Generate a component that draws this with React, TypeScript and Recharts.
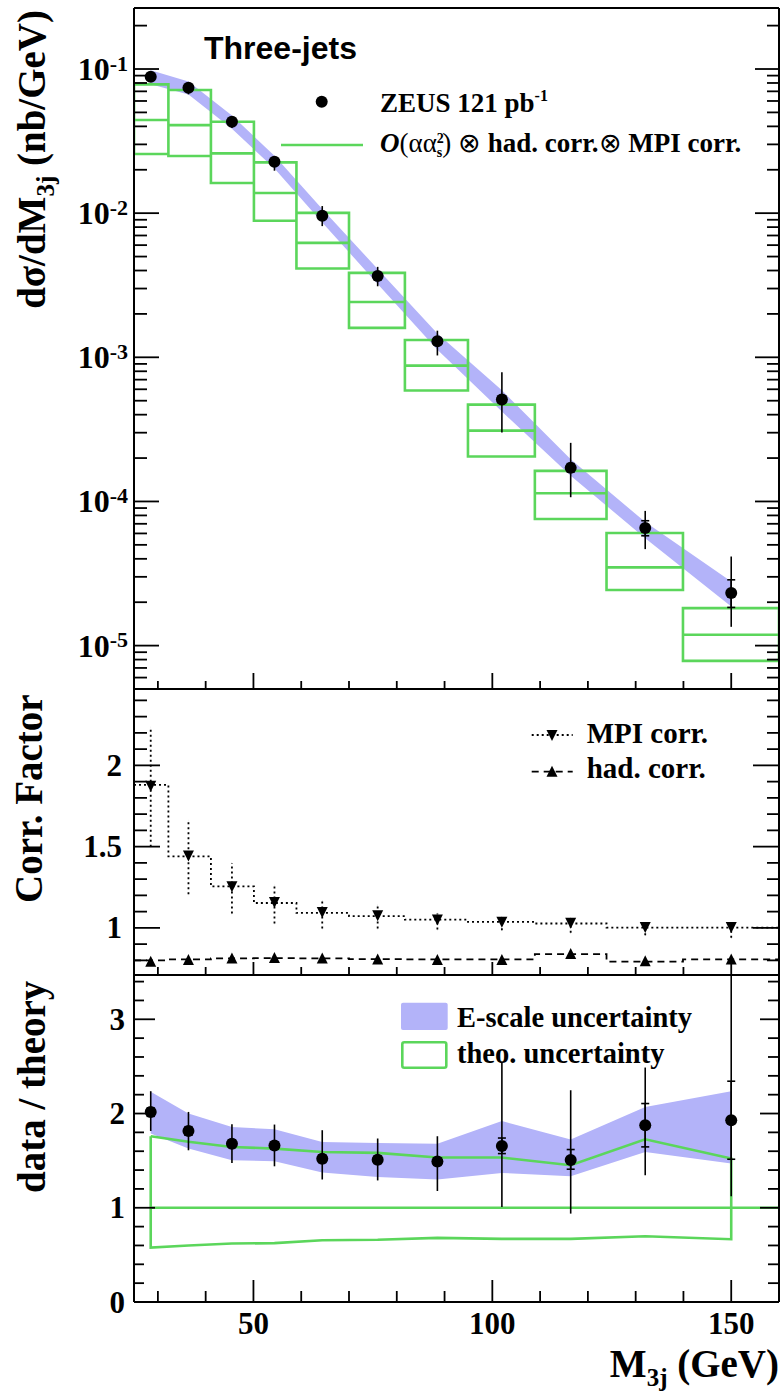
import React from "react";
import {
  Area,
  ComposedChart,
  ErrorBar,
  Legend,
  Line,
  Scatter,
  XAxis,
  YAxis,
} from "recharts";

const W = 783;
const GREEN = "#5bd65b";
const BAND = "#b3b3f9";
const SERIF = "'Liberation Serif', 'Times New Roman', Times, serif";
const SANS = "'Liberation Sans', Arial, Helvetica, sans-serif";
const AXIS = { stroke: "#000", strokeWidth: 2 };

// M3j bins (GeV)
const massMin = 25;
const massMax = 160;
const massPts = [28.5, 36.4, 45.5, 54.4, 64.4, 76.0, 88.5, 102.0, 116.4, 132.0, 150.0];
const binEdges = [25, 32.2, 41.1, 50.1, 59.0, 70.0, 81.7, 94.9, 108.9, 123.9, 139.9, 160];
const massTicks = [30, 40, 50, 60, 70, 80, 90, 100, 110, 120, 130, 140, 150];
const massMajor = [50, 100, 150];

// top panel: dsigma/dM3j (nb/GeV)
const xsec = [0.0885, 0.0742, 0.043, 0.0227, 0.00958, 0.00367, 0.00129, 5.09e-4, 1.71e-4, 6.55e-5, 2.32e-5];
const xsecLo = [0.085, 0.0667, 0.0389, 0.0197, 0.00813, 0.00311, 0.00103, 3.01e-4, 1.07e-4, 4.67e-5, 1.35e-5];
const xsecHi = [0.092, 0.081, 0.047, 0.0246, 0.0112, 0.00424, 0.00153, 7.87e-4, 2.55e-4, 8.6e-5, 4.15e-5];
const xsecStatLo = [0.087, 0.0725, 0.042, 0.0222, 0.0093, 0.00356, 0.00124, 4.8e-4, 1.6e-4, 5.78e-5, 1.84e-5];
const xsecStatHi = [0.09, 0.076, 0.044, 0.0232, 0.0099, 0.00378, 0.00134, 5.4e-4, 1.83e-4, 7.35e-5, 2.86e-5];
const escTopLo = [0.0785, 0.0665, 0.0385, 0.0204, 0.0086, 0.00323, 0.00113, 4.2e-4, 1.51e-4, 5.55e-5, 1.87e-5];
const escTopHi = [0.098, 0.082, 0.0476, 0.025, 0.0107, 0.0041, 0.00146, 5.9e-4, 1.96e-4, 7.2e-5, 2.78e-5];
const theoUpper = [0.0783, 0.0715, 0.0431, 0.0225, 0.01005, 0.00385, 0.00132, 4.7e-4, 1.63e-4, 6.04e-5, 1.82e-5];
const theoCentral = [0.0443, 0.0408, 0.026, 0.0138, 0.00622, 0.00242, 8.75e-4, 3.1e-4, 1.14e-4, 3.49e-5, 1.19e-5];
const theoLower = [0.0257, 0.0249, 0.0162, 0.00885, 0.00413, 0.0016, 5.88e-4, 2.05e-4, 7.55e-5, 2.43e-5, 7.83e-6];
const xsecDomain = [5e-6, 0.265];
const decades = [1e-6, 1e-5, 1e-4, 1e-3, 1e-2, 1e-1];
const mantissas = [1, 2, 3, 4, 5, 6, 7, 8, 9];

// middle panel: correction factors
const mpiCorr = [1.875, 1.446, 1.256, 1.16, 1.098, 1.078, 1.051, 1.037, 1.031, 1.006, 1.006];
const mpiLo = [1.5, 1.207, 1.088, 1.027, 0.996, 0.996, 0.99, 0.986, 0.97, 0.955, 0.94];
const mpiHi = [2.233, 1.66, 1.4, 1.262, 1.166, 1.139, 1.088, 1.067, 1.06, 1.03, 1.02];
const mpiStep = [1.88, 1.44, 1.255, 1.153, 1.092, 1.072, 1.051, 1.037, 1.027, 1.002, 1.002];
const hadCorr = [0.792, 0.802, 0.812, 0.815, 0.812, 0.806, 0.803, 0.803, 0.839, 0.795, 0.806];
const hadStep = [0.8, 0.806, 0.812, 0.814, 0.812, 0.808, 0.806, 0.806, 0.839, 0.792, 0.806];
const corrTicks = [0.8, 0.9, 1, 1.1, 1.2, 1.3, 1.4, 1.5, 1.6, 1.7, 1.8, 1.9, 2, 2.1, 2.2, 2.3, 2.4];
const corrMajor = [1, 1.5, 2];

// bottom panel: data / theory
const ratio = [2.017, 1.815, 1.68, 1.66, 1.52, 1.51, 1.49, 1.656, 1.507, 1.876, 1.929];
const ratioLo = [1.815, 1.61, 1.476, 1.44, 1.3, 1.29, 1.178, 1.009, 0.938, 1.345, 1.122];
const ratioHi = [2.237, 2.017, 1.886, 1.883, 1.823, 1.735, 1.759, 2.54, 2.247, 2.488, 3.47];
const ratioStatLo = [1.97, 1.77, 1.64, 1.62, 1.48, 1.47, 1.45, 1.575, 1.409, 1.646, 1.515];
const ratioStatHi = [2.06, 1.86, 1.72, 1.7, 1.56, 1.55, 1.53, 1.74, 1.618, 2.106, 2.343];
const escLo = [1.788, 1.628, 1.504, 1.494, 1.374, 1.327, 1.3, 1.37, 1.334, 1.592, 1.469];
const escHi = [2.23, 2.0, 1.858, 1.833, 1.699, 1.688, 1.68, 1.92, 1.724, 2.07, 2.237];
const theoRatioUp = [1.759, 1.7, 1.645, 1.628, 1.592, 1.582, 1.533, 1.533, 1.451, 1.727, 1.522];
const theoRatioLow = [0.577, 0.6, 0.62, 0.625, 0.655, 0.66, 0.68, 0.67, 0.67, 0.697, 0.666];
const ratioTicks = [0, 0.2, 0.4, 0.6, 0.8, 1, 1.2, 1.4, 1.6, 1.8, 2, 2.2, 2.4, 2.6, 2.8, 3, 3.2, 3.4];
const ratioMajor = [0, 1, 2, 3];

// tables built from the arrays
const withErr = (vals: number[], lo: number[], hi: number[], sLo: number[], sHi: number[]) =>
  massPts.map((x, i) => ({
    x,
    y: vals[i],
    err: [vals[i] - lo[i], hi[i] - vals[i]],
    stat: [vals[i] - sLo[i], sHi[i] - vals[i]],
  }));

const xsecRows = withErr(xsec, xsecLo, xsecHi, xsecStatLo, xsecStatHi);
const ratioRows = withErr(ratio, ratioLo, ratioHi, ratioStatLo, ratioStatHi);
const escTopRows = massPts.map((x, i) => ({ x, band: [escTopLo[i], escTopHi[i]] }));
const escRows = massPts.map((x, i) => ({ x, band: [escLo[i], escHi[i]] }));

const theoryBoxes = binEdges.slice(0, -1).flatMap((x0, i) => {
  const x1 = binEdges[i + 1];
  return [
    { x: x0, y: theoLower[i] },
    { x: x0, y: theoCentral[i] },
    { x: x1, y: theoCentral[i] },
    { x: x1, y: theoLower[i] },
    { x: x0, y: theoLower[i] },
    { x: x0, y: theoUpper[i] },
    { x: x1, y: theoUpper[i] },
    { x: x1, y: theoCentral[i] },
    { x: x1, y: null },
  ];
});

const theoOutline = [
  ...massPts.map((x, i) => ({ x, y: theoRatioUp[i] })),
  ...massPts.map((x, i) => ({ x, y: theoRatioLow[i] })).reverse(),
  { x: massPts[0], y: theoRatioUp[0] },
];
const unityLine = [
  { x: massPts[0], y: 1 },
  { x: massMax, y: 1 },
];

const stepRows = (vals: number[]) =>
  binEdges.map((x, i) => ({ x, y: vals[Math.min(i, vals.length - 1)] }));
const mpiRows = massPts.map((x, i) => ({ x, y: mpiCorr[i], err: [mpiCorr[i] - mpiLo[i], mpiHi[i] - mpiCorr[i]] }));
const hadRows = massPts.map((x, i) => ({ x, y: hadCorr[i] }));

const logTicks = decades
  .flatMap((d) => mantissas.map((m) => m * d))
  .filter((v) => v >= xsecDomain[0] && v <= xsecDomain[1]);
const isDecade = (v: number) => Math.abs(Math.log10(v) - Math.round(Math.log10(v))) < 1e-6;
const inList = (list: number[]) => (v: number) => list.some((m) => Math.abs(m - v) < 1e-9);

type TickSpec = {
  side: "left" | "right" | "top" | "bottom";
  isMajor: (v: number) => boolean;
  majorLen: number;
  minorLen: number;
  label?: (x: number, y: number, v: number) => React.ReactNode;
};

function makeTick(spec: TickSpec) {
  return (props: any) => {
    const { x, y, payload } = props;
    const v = payload.value;
    const major = spec.isMajor(v);
    const len = major ? spec.majorLen : spec.minorLen;
    let end = { x2: x, y2: y };
    if (spec.side === "left") end = { x2: x + len, y2: y };
    if (spec.side === "right") end = { x2: x - len, y2: y };
    if (spec.side === "top") end = { x2: x, y2: y + len };
    if (spec.side === "bottom") end = { x2: x, y2: y - len };
    return (
      <g>
        <line x1={x} y1={y} {...end} stroke="#000" strokeWidth={1.8} />
        {major && spec.label ? spec.label(x, y, v) : null}
      </g>
    );
  };
}

const numLabel = (gap: number) => (x: number, y: number, v: number) => (
  <text x={x - gap} y={y + 10.5} textAnchor="end" fontFamily={SERIF} fontWeight="bold" fontSize={31} fill="#000">
    {String(v)}
  </text>
);

const powLabel = (x: number, y: number, v: number) => (
  <text x={x - 6} y={y + 11} textAnchor="end" fontFamily={SERIF} fontWeight="bold" fontSize={32} fill="#000">
    10
    <tspan dy={-9.5} fontSize={22}>
      {String(Math.round(Math.log10(v)))}
    </tspan>
  </text>
);

const massLabel = (x: number, y: number, v: number) => (
  <text x={x} y={y + 32} textAnchor="middle" fontFamily={SERIF} fontWeight="bold" fontSize={31} fill="#000">
    {String(v)}
  </text>
);

const Dot = (p: any) => <circle cx={p.cx} cy={p.cy} r={6} fill="#000" />;
const TriDown = (p: any) => (
  <polygon points={`${p.cx - 5.5},${p.cy - 5} ${p.cx + 5.5},${p.cy - 5} ${p.cx},${p.cy + 6}`} fill="#000" />
);
const TriUp = (p: any) => (
  <polygon points={`${p.cx - 5.5},${p.cy + 5} ${p.cx + 5.5},${p.cy + 5} ${p.cx},${p.cy - 6}`} fill="#000" />
);

// axes are 1px thick boxes: a zero-sized axis is not drawn at all
function xAxes(top: [number, number], bottom: [number, number], withLabels: boolean) {
  return [
    <XAxis
      key="b"
      xAxisId="b"
      type="number"
      dataKey="x"
      domain={[massMin, massMax]}
      allowDataOverflow
      ticks={massTicks}
      interval={0}
      orientation="bottom"
      height={1}
      tickSize={0}
      tickMargin={0}
      tickLine={false}
      axisLine={AXIS}
      tick={makeTick({
        side: "bottom",
        isMajor: inList(massMajor),
        majorLen: bottom[0],
        minorLen: bottom[1],
        label: withLabels ? massLabel : undefined,
      })}
      label={
        withLabels
          ? (p: any) => {
              const vb = p.viewBox;
              return (
                <text x={vb.x + vb.width} y={vb.y + 75} textAnchor="end" fontFamily={SERIF} fontWeight="bold" fontSize={39} fill="#000">
                  M
                  <tspan dy={9} fontSize={25}>3j</tspan>
                  <tspan dy={-9}> (GeV)</tspan>
                </text>
              );
            }
          : undefined
      }
    />,
    <XAxis
      key="t"
      xAxisId="t"
      type="number"
      domain={[massMin, massMax]}
      allowDataOverflow
      ticks={massTicks}
      interval={0}
      orientation="top"
      height={1}
      tickSize={0}
      tickMargin={0}
      tickLine={false}
      axisLine={AXIS}
      tick={makeTick({ side: "top", isMajor: inList(massMajor), majorLen: top[0], minorLen: top[1] })}
    />,
  ];
}

function TopPanel() {
  const H = 709;
  return (
    <div style={{ position: "absolute", left: 0, top: 0 }}>
      <ComposedChart width={W} height={H} margin={{ top: 7, right: 3, bottom: 19, left: 133 }}>
        {xAxes([16.7, 8], [16, 8], false)}
        <YAxis
          yAxisId="l"
          type="number"
          dataKey="y"
          scale="log"
          domain={xsecDomain}
          allowDataOverflow
          ticks={logTicks}
          interval={0}
          width={1}
          tickSize={0}
          tickMargin={0}
          tickLine={false}
          axisLine={AXIS}
          tick={makeTick({ side: "left", isMajor: isDecade, majorLen: 25, minorLen: 13, label: powLabel })}
          label={(p: any) => {
            const vb = p.viewBox;
            const x = vb.x - 88;
            const y = vb.y + 2;
            return (
              <text x={x} y={y} transform={`rotate(-90, ${x}, ${y})`} textAnchor="end" fontFamily={SERIF} fontWeight="bold" fontSize={39} fill="#000">
                dσ/dM
                <tspan dy={9} fontSize={25}>3j</tspan>
                <tspan dy={-9}> (nb/GeV)</tspan>
              </text>
            );
          }}
        />
        <YAxis
          yAxisId="r"
          orientation="right"
          type="number"
          scale="log"
          domain={xsecDomain}
          allowDataOverflow
          ticks={logTicks}
          interval={0}
          width={1}
          tickSize={0}
          tickMargin={0}
          tickLine={false}
          axisLine={AXIS}
          tick={makeTick({ side: "right", isMajor: isDecade, majorLen: 24, minorLen: 12 })}
        />
        <Area
          xAxisId="b"
          yAxisId="l"
          data={escTopRows}
          dataKey="band"
          type="linear"
          fill={BAND}
          fillOpacity={1}
          stroke="none"
          isAnimationActive={false}
        />
        <Line
          xAxisId="b"
          yAxisId="l"
          data={theoryBoxes}
          dataKey="y"
          type="linear"
          stroke={GREEN}
          strokeWidth={2.6}
          dot={false}
          connectNulls={false}
          isAnimationActive={false}
        />
        <Scatter xAxisId="b" yAxisId="l" data={xsecRows} shape={Dot} isAnimationActive={false}>
          <ErrorBar dataKey="err" direction="y" width={0} stroke="#000" strokeWidth={1.6} />
          <ErrorBar dataKey="stat" direction="y" width={4} stroke="#000" strokeWidth={1.6} />
        </Scatter>
        <Legend
          layout="horizontal"
          verticalAlign="middle"
          align="center"
          wrapperStyle={{ left: 0, top: 0, width: W, height: H, pointerEvents: "none" }}
          content={() => (
            <svg width={W} height={H} style={{ display: "block" }}>
              <text x={204} y={59.3} fontFamily={SANS} fontWeight="bold" fontSize={32} fill="#000">
                Three-jets
              </text>
              <circle cx={321.7} cy={101.7} r={6} fill="#000" />
              <text x={380} y={111.5} fontFamily={SERIF} fontWeight="bold" fontSize={27} fill="#000">
                ZEUS 121 pb
                <tspan dy={-11} fontSize={16}>-1</tspan>
              </text>
              <line x1={281} y1={145} x2={363} y2={145} stroke={GREEN} strokeWidth={2.6} />
              <text x={380} y={152} fontFamily={SERIF} fontWeight="bold" fontSize={27} fill="#000">
                <tspan fontStyle="italic">O</tspan>
                <tspan fontWeight="normal">(αα</tspan>
                <tspan fontSize={14} dy={-9}>2</tspan>
                <tspan fontSize={14} dx={-7} dy={14}>s</tspan>
                <tspan fontWeight="normal" dy={-5}>)</tspan>
                <tspan fontWeight="normal">{" ⊗ "}</tspan>
                <tspan>had. corr.</tspan>
                <tspan fontWeight="normal">{"⊗ "}</tspan>
                <tspan>MPI corr.</tspan>
              </text>
            </svg>
          )}
        />
      </ComposedChart>
    </div>
  );
}

function MiddlePanel() {
  const H = 326;
  return (
    <div style={{ position: "absolute", left: 0, top: 669 }}>
      <ComposedChart width={W} height={H} margin={{ top: 19, right: 3, bottom: 19, left: 133 }}>
        {xAxes([19, 9], [13, 8], false)}
        <YAxis
          yAxisId="l"
          type="number"
          dataKey="y"
          domain={[0.71, 2.47]}
          allowDataOverflow
          ticks={corrTicks}
          interval={0}
          width={1}
          tickSize={0}
          tickMargin={0}
          tickLine={false}
          axisLine={AXIS}
          tick={makeTick({ side: "left", isMajor: inList(corrMajor), majorLen: 26, minorLen: 13, label: numLabel(12) })}
          label={(p: any) => {
            const vb = p.viewBox;
            const x = vb.x - 91;
            const y = vb.y + 214;
            return (
              <text x={x} y={y} transform={`rotate(-90, ${x}, ${y})`} textAnchor="start" fontFamily={SERIF} fontWeight="bold" fontSize={39} fill="#000">
                Corr. Factor
              </text>
            );
          }}
        />
        <YAxis
          yAxisId="r"
          orientation="right"
          type="number"
          domain={[0.71, 2.47]}
          allowDataOverflow
          ticks={corrTicks}
          interval={0}
          width={1}
          tickSize={0}
          tickMargin={0}
          tickLine={false}
          axisLine={AXIS}
          tick={makeTick({ side: "right", isMajor: inList(corrMajor), majorLen: 26, minorLen: 12 })}
        />
        <Line
          xAxisId="b"
          yAxisId="l"
          data={stepRows(mpiStep)}
          dataKey="y"
          type="stepAfter"
          stroke="#000"
          strokeWidth={1.8}
          strokeDasharray="2 3"
          dot={false}
          isAnimationActive={false}
        />
        <Line
          xAxisId="b"
          yAxisId="l"
          data={stepRows(hadStep)}
          dataKey="y"
          type="stepAfter"
          stroke="#000"
          strokeWidth={1.8}
          strokeDasharray="7 5"
          dot={false}
          isAnimationActive={false}
        />
        <Scatter xAxisId="b" yAxisId="l" data={mpiRows} shape={TriDown} isAnimationActive={false}>
          <ErrorBar dataKey="err" direction="y" width={0} stroke="#000" strokeWidth={1.8} strokeDasharray="2 3" />
        </Scatter>
        <Scatter xAxisId="b" yAxisId="l" data={hadRows} shape={TriUp} isAnimationActive={false} />
        <Legend
          layout="horizontal"
          verticalAlign="middle"
          align="center"
          wrapperStyle={{ left: 0, top: 0, width: W, height: H, pointerEvents: "none" }}
          content={() => (
            <svg width={W} height={H} style={{ display: "block" }}>
              <line x1={531.7} y1={66} x2={572.7} y2={66} stroke="#000" strokeWidth={1.8} strokeDasharray="2 3" />
              <TriDown cx={552} cy={66} />
              <text x={586.7} y={74.3} fontFamily={SERIF} fontWeight="bold" fontSize={29} fill="#000">
                MPI corr.
              </text>
              <line x1={531.7} y1={102.7} x2={572.7} y2={102.7} stroke="#000" strokeWidth={1.8} strokeDasharray="7 5" />
              <TriUp cx={552} cy={102.7} />
              <text x={586.7} y={109.3} fontFamily={SERIF} fontWeight="bold" fontSize={29} fill="#000">
                had. corr.
              </text>
            </svg>
          )}
        />
      </ComposedChart>
    </div>
  );
}

function BottomPanel() {
  const H = 441;
  return (
    <div style={{ position: "absolute", left: 0, top: 955 }}>
      <ComposedChart width={W} height={H} margin={{ top: 19, right: 3, bottom: 93, left: 133 }}>
        {xAxes([22, 8], [22, 11], true)}
        <YAxis
          yAxisId="l"
          type="number"
          dataKey="y"
          domain={[0, 3.47]}
          allowDataOverflow
          ticks={ratioTicks}
          interval={0}
          width={1}
          tickSize={0}
          tickMargin={0}
          tickLine={false}
          axisLine={AXIS}
          tick={makeTick({ side: "left", isMajor: inList(ratioMajor), majorLen: 21, minorLen: 10, label: numLabel(9) })}
          label={(p: any) => {
            const vb = p.viewBox;
            const x = vb.x - 88;
            const y = vb.y + 218;
            return (
              <text x={x} y={y} transform={`rotate(-90, ${x}, ${y})`} textAnchor="start" fontFamily={SERIF} fontWeight="bold" fontSize={39} fill="#000">
                data / theory
              </text>
            );
          }}
        />
        <YAxis
          yAxisId="r"
          orientation="right"
          type="number"
          domain={[0, 3.47]}
          allowDataOverflow
          ticks={ratioTicks}
          interval={0}
          width={1}
          tickSize={0}
          tickMargin={0}
          tickLine={false}
          axisLine={AXIS}
          tick={makeTick({ side: "right", isMajor: inList(ratioMajor), majorLen: 19, minorLen: 11 })}
        />
        <Area
          xAxisId="b"
          yAxisId="l"
          data={escRows}
          dataKey="band"
          type="linear"
          fill={BAND}
          fillOpacity={1}
          stroke="none"
          isAnimationActive={false}
        />
        <Line
          xAxisId="b"
          yAxisId="l"
          data={theoOutline}
          dataKey="y"
          type="linear"
          stroke={GREEN}
          strokeWidth={2.6}
          dot={false}
          isAnimationActive={false}
        />
        <Line
          xAxisId="b"
          yAxisId="l"
          data={unityLine}
          dataKey="y"
          type="linear"
          stroke={GREEN}
          strokeWidth={2.6}
          dot={false}
          isAnimationActive={false}
        />
        <Scatter xAxisId="b" yAxisId="l" data={ratioRows} shape={Dot} isAnimationActive={false}>
          <ErrorBar dataKey="err" direction="y" width={0} stroke="#000" strokeWidth={1.6} />
          <ErrorBar dataKey="stat" direction="y" width={4} stroke="#000" strokeWidth={1.6} />
        </Scatter>
        <Legend
          layout="horizontal"
          verticalAlign="middle"
          align="center"
          wrapperStyle={{ left: 0, top: 0, width: W, height: H, pointerEvents: "none" }}
          content={() => (
            <svg width={W} height={H} style={{ display: "block" }}>
              <rect x={401} y={47.7} width={46.7} height={27.3} rx={2} fill={BAND} />
              <text x={457} y={71.7} fontFamily={SERIF} fontWeight="bold" fontSize={28.5} fill="#000">
                E-scale uncertainty
              </text>
              <rect x={402.3} y={87.3} width={44} height={25.4} rx={2} fill="none" stroke={GREEN} strokeWidth={2.6} />
              <text x={457} y={108.3} fontFamily={SERIF} fontWeight="bold" fontSize={28.5} fill="#000">
                theo. uncertainty
              </text>
            </svg>
          )}
        />
      </ComposedChart>
    </div>
  );
}

export default function App() {
  return (
    <div style={{ position: "absolute", left: 0, top: 0, width: W, height: 1396, background: "#fff" }}>
      <TopPanel />
      <MiddlePanel />
      <BottomPanel />
    </div>
  );
}
